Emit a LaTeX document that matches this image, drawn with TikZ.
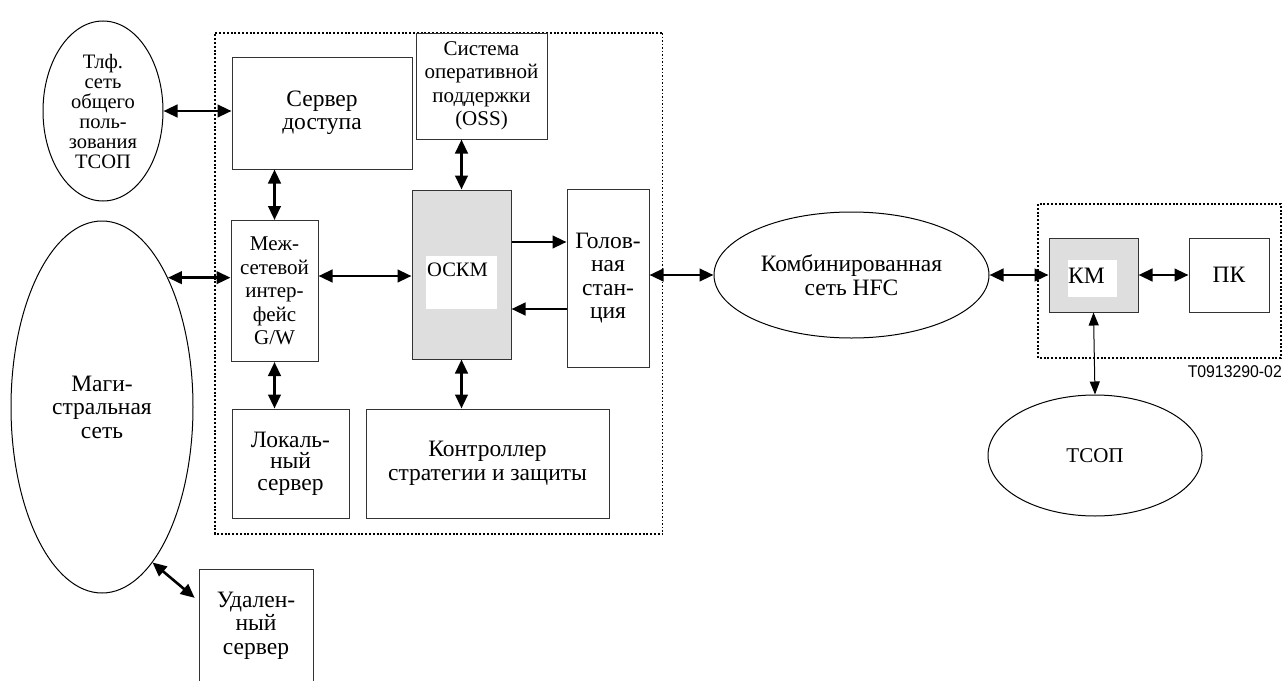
\documentclass[tikz,border=0pt]{standalone}
\usepackage{fontspec}
\setmainfont{Liberation Serif}
\newfontfamily\labelfont{Liberation Sans}[FakeStretch=0.93]
\usetikzlibrary{arrows.meta,shapes.geometric}
\begin{document}
\begin{tikzpicture}[x=1pt,y=-1pt,
  txt/.style={font=\fontsize{23.5}{23.5}\selectfont, align=center},
  narrowtxt/.style={font=\fontsize{21}{23.5}\selectfont, align=center},
  box/.style={draw=black!80, line width=1pt, inner sep=0pt, txt},
  oval/.style={ellipse, draw=black, line width=1pt, inner sep=0pt, txt},
  duo/.style={{Triangle[length=14pt,width=12.5pt]}-{Triangle[length=14pt,width=12.5pt]}, line width=2.6pt},
  uno/.style={-{Triangle[length=14pt,width=12.5pt]}, line width=2.6pt},
  thinduo/.style={{Triangle[length=13pt,width=10pt]}-{Triangle[length=13pt,width=10pt]}, line width=1pt},
  frame/.style={line width=1.6pt, dash pattern=on 2pt off 1.8pt},
  thinframe/.style={line width=0.9pt, dash pattern=on 1.5pt off 2pt},
]
\useasboundingbox (0,0) rectangle (1282,680);
\clip (0,0) rectangle (1282,680);

% dotted frames around the head-end and the subscriber side
\draw[frame] (662,33) -- (215,33) -- (215,534) -- (662,534);
\draw[thinframe] (662,33) -- (662,534);
\draw[frame] (1038,204) rectangle (1281,358);

% networks
\node[oval, minimum width=120pt, minimum height=180pt,
      font=\fontsize{20.5}{20}\selectfont] (tlf) at (103,111)
  {Тлф.\\сеть\\общего\\поль-\\зования\\ТСОП};
\node[oval, minimum width=182pt, minimum height=372pt] (mag) at (102,407)
  {Маги-\\стральная\\сеть};
\node[oval, minimum width=275pt, minimum height=126pt] (hfc) at (851.5,275)
  {Комбинированная\\сеть HFC};
\node[oval, narrowtxt, minimum width=214pt, minimum height=121pt] (tsop) at (1095,455.5)
  {ТСОП};

% head-end blocks
\node[box, minimum width=180pt, minimum height=112pt] (srv) at (322,113)
  {Сервер\\доступа};
\node[box, narrowtxt, minimum width=131pt, minimum height=106pt] (oss) at (481.5,86)
  {Система\\оперативной\\поддержки\\(OSS)};
\node[box, fill=black!13, minimum width=99pt, minimum height=169pt] (ockm) at (461.5,274.5) {};
\fill[white] (426,256) rectangle (497,309);
\node[font=\fontsize{20.5}{20.5}\selectfont, anchor=west, inner sep=0pt] (ockmlabel) at (427,270) {ОСКМ};
\node[box, minimum width=82pt, minimum height=178pt] (head) at (608,278)
  {Голов-\\ная\\стан-\\ция};
\node[box, narrowtxt, minimum width=87pt, minimum height=141pt] (gw) at (274.5,291)
  {Меж-\\сетевой\\интер-\\фейс\\G/W};
\node[box, font=\fontsize{23.5}{21.5}\selectfont, minimum width=117pt, minimum height=109pt] (loc) at (290.5,463.5)
  {Локаль-\\ный\\сервер};
\node[box, minimum width=243pt, minimum height=109pt] (ctl) at (487.5,463.5)
  {Контроллер\\стратегии и защиты};
\node[box, minimum width=114pt, minimum height=113pt] (rem) at (256,625.5)
  {Удален-\\ный\\сервер};

% subscriber side
\node[box, fill=black!13, minimum width=89pt, minimum height=74pt] (km) at (1093.5,275) {};
\fill[white] (1068,260) rectangle (1117,297);
\node[txt, anchor=west, inner sep=0pt] (kmlabel) at (1068,276) {КМ};
\node[box, minimum width=80pt, minimum height=74pt] (pc) at (1229,275) {ПК};

\node[font=\labelfont\fontsize{17}{17}\selectfont, anchor=east, inner sep=0pt] (code) at (1282,372)
  {T0913290-02};

% connections
\draw[duo] (tlf.east) -- (tlf.east -| srv.west);
\draw[duo] (srv.south -| gw.north) -- (gw.north);
\draw[duo] (gw.south) -- (gw.south |- loc.north);
\draw[duo] (mag.63.7) -- (mag.63.7 -| gw.west);
\draw[duo] ([yshift=15pt]gw.east) -- ([yshift=15pt]gw.east -| ockm.west);
\draw[duo] (ockm.north |- oss.south) -- (ockm.north);
\draw[duo] (ockm.south) -- (ockm.south |- ctl.north);
\draw[uno] ([yshift=32.5pt]ockm.east) -- ([yshift=32.5pt]ockm.east -| head.west);
\draw[uno] ([yshift=-34.5pt]ockm.east -| head.west) -- ([yshift=-34.5pt]ockm.east);
\draw[duo] (hfc.west -| head.east) -- (hfc.west);
\draw[duo] (hfc.east) -- (km.west);
\draw[duo] (km.east) -- (pc.west);
\draw[thinduo] (km.south) -- (tsop.north);
\draw[duo, shorten >=5pt] (mag.-72) -- (rem.157);
\end{tikzpicture}
\end{document}
